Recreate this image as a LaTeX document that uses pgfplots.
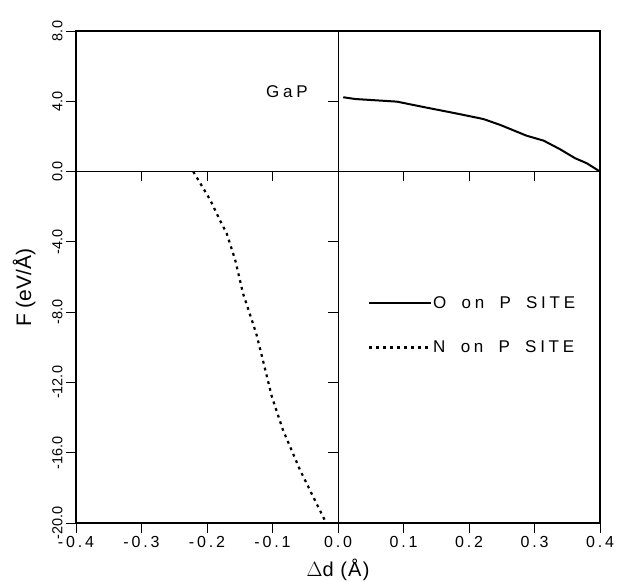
\documentclass[border=0pt]{standalone}
\usepackage{fontspec}
\setmainfont{Liberation Sans}
\newfontfamily\spaced[LetterSpace=22, WordSpace=1.8]{Liberation Sans}
\newfontfamily\tickfont[LetterSpace=18]{Liberation Sans}
\newfontfamily\labfont[LetterSpace=6]{Liberation Sans}
\usepackage{pgfplots}
\pgfplotsset{compat=1.18}

\begin{document}
\begin{tikzpicture}
\begin{axis}[
    scale only axis, width=524bp, height=492bp,
    xmin=-0.4, xmax=0.4, ymin=-20, ymax=8,
    xtick={-0.4,-0.3,...,0.41}, ytick={-20,-16,...,8},
    tick pos=left, tick align=outside,
    major tick length=10bp,
    /pgf/number format/assume math mode=true,
    xticklabel style={font=\tickfont\fontsize{16bp}{18bp}\selectfont,
        /pgf/number format/.cd, fixed, fixed zerofill, precision=1},
    yticklabel style={rotate=90, anchor=south, font=\fontsize{14.5bp}{16bp}\selectfont,
        /pgf/number format/.cd, fixed, fixed zerofill, precision=1},
    axis line style={line width=1.3bp},
    every tick/.style={black, line width=0.8bp},
    xlabel={\labfont $\Delta$d (Å)}, ylabel={F (eV/Å)},
    xlabel style={font=\fontsize{20bp}{22bp}\selectfont,
        at={(axis description cs:0.5,-0.095)}, anchor=center},
    ylabel style={font=\fontsize{21bp}{23bp}\selectfont,
        at={(axis description cs:-0.099,0.478)}, anchor=center},
    clip=false,
    legend style={draw=none, fill=none, at={(axis cs:0.041,-8.75)}, anchor=west,
        font=\spaced\fontsize{17bp}{19bp}\selectfont, row sep=29bp,
        nodes={inner sep=1bp}},
    legend cell align=left,
    legend image code/.code={\draw[#1] (0bp,0bp) -- (62bp,0bp);},
]
% inner cross lines and their ticks
\draw[line width=0.8bp] (axis cs:0,-20) -- (axis cs:0,8);
\draw[line width=0.8bp] (axis cs:-0.4,0) -- (axis cs:0.4,0);
\pgfplotsinvokeforeach{-0.3,-0.2,-0.1,0.1,0.2,0.3}{
    \draw[line width=0.8bp] (axis cs:#1,0) -- ++(0bp,-9bp);
}
\pgfplotsinvokeforeach{-16,-12,-8,-4,4}{
    \draw[line width=0.8bp] (axis cs:0,#1) -- ++(-10bp,0bp);
}

\addplot[black, line width=2bp] coordinates {
    (0.008,4.23) (0.026,4.13) (0.090,3.98) (0.135,3.64) (0.179,3.32)
    (0.222,2.99) (0.248,2.65) (0.288,2.04) (0.314,1.76) (0.339,1.27)
    (0.362,0.76) (0.380,0.47) (0.400,0.00)
};
\addlegendentry{O on P SITE}

\addplot[black, line width=2.2bp, dash pattern=on 2.8bp off 4.2bp] coordinates {
    (-0.221,0.00) (-0.195,-1.62) (-0.178,-2.94) (-0.170,-3.51) (-0.157,-5.03)
    (-0.145,-6.93) (-0.125,-9.20) (-0.116,-10.53) (-0.101,-12.81)
    (-0.084,-14.71) (-0.058,-16.98) (-0.038,-18.50) (-0.018,-20.00)
};
\addlegendentry{N on P SITE}

\node[font=\spaced\fontsize{17bp}{19bp}\selectfont] at (axis cs:-0.078,4.53) {GaP};

\coordinate (bl) at (rel axis cs:0,0);
\coordinate (tr) at (rel axis cs:1,1);
\end{axis}
\pgfresetboundingbox
\path ([shift={(-76bp,-59bp)}]bl) rectangle ([shift={(19bp,31bp)}]tr);
\end{tikzpicture}
\end{document}
